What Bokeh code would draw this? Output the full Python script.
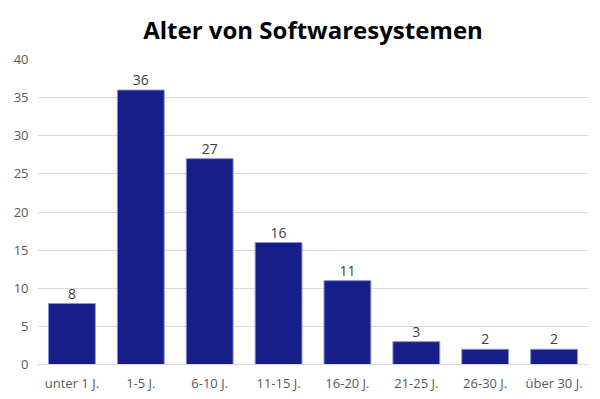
from bokeh.plotting import figure
from bokeh.models import ColumnDataSource, FactorRange, Range1d, LabelSet, Title
from bokeh.core.properties import value
from bokeh.embed import file_html
from bokeh.resources import INLINE

categories = ["unter 1 J.", "1-5 J.", "6-10 J.", "11-15 J.", "16-20 J.", "21-25 J.", "26-30 J.", "über 30 J."]
values = [8, 36, 27, 16, 11, 3, 2, 2]
y_ticks = [0, 5, 10, 15, 20, 25, 30, 35, 40]
title_text = "Alter von Softwaresystemen"

src = ColumnDataSource(dict(cat=categories, val=values, lab=[str(v) for v in values]))

FONT = "Open Sans"
p = figure(width=600, height=399, x_range=FactorRange(*categories, range_padding=0),
           y_range=Range1d(0, 40), output_backend="svg", toolbar_location=None,
           min_border_left=37, min_border_right=12, min_border_top=0, min_border_bottom=35)
p.title = Title(text=title_text, align="center", text_font=FONT,
                text_font_size="24px", text_font_style="bold", text_color="#000000",
                offset=0, standoff=24, vertical_align="top")
p.outline_line_color = None
p.vbar(x="cat", top="val", width=0.68, source=src, fill_color="#161E8A",
       line_color="#8C92D0", line_width=1)
p.add_layout(LabelSet(x="cat", y="val", text="lab", source=src, text_align="center",
                      text_baseline="bottom", y_offset=5, text_font=value(FONT),
                      text_font_size="14px", text_color="#404040"))

p.xgrid.grid_line_color = None
p.ygrid.grid_line_color = "#D9D9D9"
p.ygrid.ticker = y_ticks
p.yaxis.ticker = y_ticks
for ax in (p.xaxis, p.yaxis):
    ax.axis_line_color = None
    ax.major_tick_line_color = None
    ax.minor_tick_line_color = None
    ax.major_tick_out = 0
    ax.major_tick_in = 0
    ax.minor_tick_out = 0
    ax.minor_tick_in = 0
    ax.major_label_text_font = FONT
    ax.major_label_text_font_size = "13px"
    ax.major_label_text_color = "#595959"
p.xaxis.axis_line_color = "#D9D9D9"
p.xaxis.major_label_standoff = 9
p.yaxis.major_label_standoff = 9

open("out.html", "w").write(file_html(p, INLINE))
